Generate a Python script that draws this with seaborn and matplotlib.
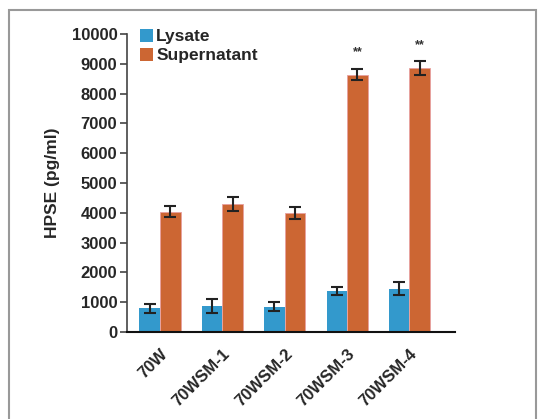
import matplotlib
matplotlib.use("Agg")
import matplotlib.pyplot as plt
import seaborn as sns
import pandas as pd
import numpy as np
from matplotlib.patches import Rectangle

categories = ["70W", "70WSM-1", "70WSM-2", "70WSM-3", "70WSM-4"]
lysate = [790, 880, 850, 1370, 1450]
lysate_err = [140, 235, 145, 140, 215]
supernatant = [4040, 4310, 4000, 8640, 8860]
supernatant_err = [180, 235, 200, 200, 220]
series = ["Lysate", "Supernatant"]
stars = ["", "", "", "**", "**"]

sns.set_theme(style="white")
plt.rcParams['font.family'] = ['Liberation Sans', 'DejaVu Sans']

df = pd.DataFrame({
    "cat": categories * 2,
    "series": [series[0]] * 5 + [series[1]] * 5,
    "val": lysate + supernatant,
    "err": lysate_err + supernatant_err,
})

fig = plt.figure(figsize=(5.39, 4.19), dpi=100)
ax = fig.add_axes([127 / 539, 1 - 332 / 419, (455 - 127) / 539, (332 - 34) / 419])
palette = {"Lysate": "#3399CC", "Supernatant": "#CC6633"}
sns.barplot(data=df, x="cat", y="val", hue="series", palette=palette,
            width=0.66, ax=ax, errorbar=None, saturation=1, legend=True,
            linewidth=0)

for cont, errs in zip(ax.containers, [lysate_err, supernatant_err]):
    for bar, e in zip(cont, errs):
        cx = bar.get_x() + bar.get_width() / 2
        ax.errorbar(cx, bar.get_height(), yerr=e, color="#222222",
                    capsize=4, elinewidth=1.5, capthick=1.5, fmt="none")
for bar in ax.containers[1]:
    bar.set_edgecolor("#E8A0A0")
    bar.set_linewidth(0.6)

for bar, s, e in zip(ax.containers[1], stars, supernatant_err):
    if s:
        cx = bar.get_x() + bar.get_width() / 2
        ax.text(cx, bar.get_height() + e + 350, s, ha="center", va="bottom",
                fontsize=9, fontweight="bold", color="#333333")

ax.set_ylim(0, 10000)
ax.set_xlim(-0.53, 4.73)
ax.set_yticks(np.arange(0, 10001, 1000))
ax.set_yticklabels([str(v) for v in range(0, 10001, 1000)], fontsize=12,
                   fontweight="bold")
ax.set_xticks(range(len(categories)))
ax.set_xticklabels(categories, rotation=45, ha="right", rotation_mode="anchor",
                   fontsize=12, fontweight="bold")
ax.set_xlabel("")
ax.set_ylabel("HPSE (pg/ml)", fontsize=12.5, fontweight="bold", labelpad=8)
for sp in ["top", "right"]:
    ax.spines[sp].set_visible(False)
ax.spines["left"].set_color("#444444")
ax.spines["left"].set_linewidth(1.2)
ax.spines["bottom"].set_color("#111111")
ax.spines["bottom"].set_linewidth(1.5)
ax.tick_params(axis="y", left=True, length=5, width=1.2, color="#444444", pad=2)
ax.tick_params(axis="x", bottom=False, pad=4)

leg = ax.legend(loc="upper left", bbox_to_anchor=(0.018, 1.04), frameon=False,
                prop={"weight": "bold", "size": 12.5}, handlelength=0.75,
                handleheight=0.75, handletextpad=0.2, labelspacing=0.2,
                borderaxespad=0)

fig.patches.append(Rectangle((9 / 539, -0.01), (536 - 9) / 539, 1 - 10 / 419 + 0.01,
                             transform=fig.transFigure, fill=False,
                             edgecolor="#999999", linewidth=1.5))

fig.savefig("out.png", dpi=100)
